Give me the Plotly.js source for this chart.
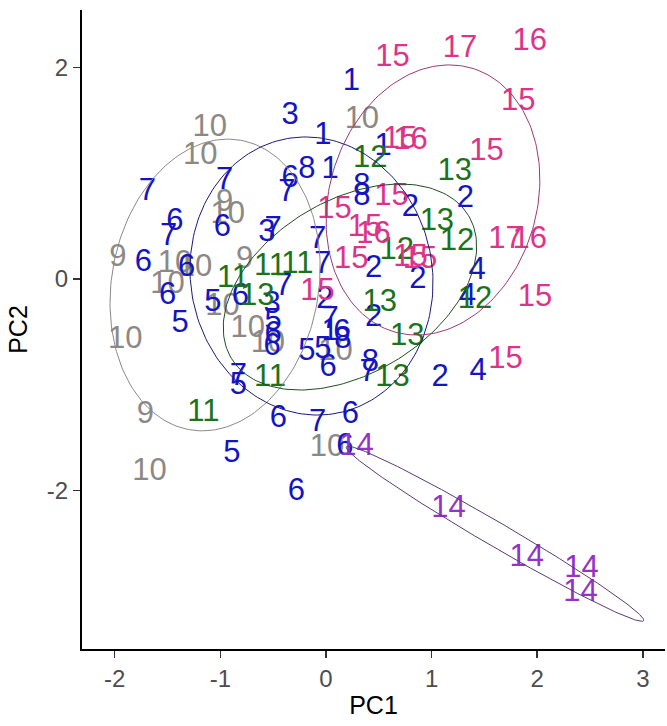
<!DOCTYPE html>
<html>
<head>
<meta charset="utf-8">
<script src="https://cdn.plot.ly/plotly-3.0.1.min.js"></script>
<style>html,body{margin:0;padding:0;background:#fff;}</style>
</head>
<body>
<div id="chart" style="width:667px;height:726px;"></div>
<script>
// ---- data ----
const greyLabels = ['10','10','10','9','10','9','10','10','10','9','10','9','10','10','10','10','10','10'];
const greyX = [-1.10,-1.19,0.34,-0.96,-0.93,-1.97,-1.43,-1.24,-1.50,-0.77,-1.90,-1.71,-1.67,-0.98,-0.74,-0.55,0.09,0.01];
const greyY = [1.43,1.16,1.50,0.72,0.60,0.20,0.14,0.10,-0.06,0.18,-0.58,-1.29,-1.83,-0.27,-0.48,-0.62,-0.69,-1.60];

const blueLabels = ['1','3','1','1','8','1','6','7','7','7','6','7','6','3','7','8','8','2','2','7','7','2','2','4','4','6','6','6','5','5','6','7','3','5','6','6','2','7','2','1','6','8','5','5','6','8','7','2','4','7','5','6','7','6','6','5','6'];
const blueX = [0.24,-0.34,-0.03,0.54,-0.18,0.04,-0.34,-0.37,-1.69,-0.96,-1.43,-1.49,-0.98,-0.56,-0.50,0.34,0.34,0.80,1.32,-0.08,-0.03,0.45,0.87,1.43,1.34,-1.73,-1.32,-1.50,-1.38,-1.07,-0.81,-0.40,-0.51,-0.50,-0.50,-0.51,-0.01,0.04,0.45,0.04,0.15,0.16,-0.18,-0.03,0.02,0.42,0.40,1.08,1.44,-0.83,-0.83,-0.45,-0.08,0.23,0.18,-0.89,-0.28];
const blueY = [1.86,1.54,1.35,1.25,1.03,1.03,0.94,0.81,0.82,0.92,0.54,0.39,0.48,0.43,0.46,0.87,0.77,0.67,0.75,0.37,0.13,0.09,-0.01,0.07,-0.17,0.15,0.10,-0.16,-0.43,-0.23,-0.17,-0.08,-0.25,-0.41,-0.53,-0.65,-0.20,-0.39,-0.37,-0.50,-0.51,-0.58,-0.69,-0.67,-0.84,-0.80,-0.89,-0.94,-0.88,-0.93,-1.01,-1.33,-1.36,-1.29,-1.59,-1.66,-2.02];

const greenLabels = ['12','13','13','12','12','11','11','11','13','13','13','13','11','11','12'];
const greenX = [0.42,1.22,1.05,1.24,0.67,-0.88,-0.53,-0.27,-0.65,0.51,0.77,0.63,-0.53,-1.16,1.41];
const greenY = [1.13,1.01,0.54,0.35,0.26,0.00,0.11,0.13,-0.17,-0.23,-0.55,-0.94,-0.94,-1.27,-0.20];

const pinkLabels = ['15','17','16','15','15','15','16','15','15','15','16','15','15','15','15','17','16','15','15'];
const pinkX = [0.63,1.27,1.93,1.82,1.52,0.70,0.80,0.08,0.62,0.37,0.45,0.24,-0.08,0.80,0.89,1.70,1.93,1.98,1.70];
const pinkY = [2.09,2.17,2.24,1.67,1.20,1.31,1.30,0.65,0.77,0.48,0.41,0.18,-0.13,0.20,0.18,0.37,0.37,-0.18,-0.77];

const purpleLabels = ['14','14','14','14','14'];
const purpleX = [0.29,1.16,1.90,2.42,2.41];
const purpleY = [-1.59,-2.18,-2.64,-2.75,-2.97];

// confidence ellipses (grey, blue, green, pink, purple): centre, semi-axes, rotation in degrees
const ellipseCx = [-1.05,-0.137,0.227,1.013,1.60];
const ellipseCy = [-0.057,0.028,-0.076,0.747,-2.41];
const ellipseA = [1.39,1.32,1.31,1.30,1.63];
const ellipseB = [0.98,1.145,0.82,0.983,0.115];
const ellipseAngle = [80,100,31,73.5,-30.3];

const xTicks = [-2,-1,0,1,2,3];
const xTickText = ['-2','-1','0','1','2','3'];
const yTicks = [-2,0,2];
const yTickText = ['-2','0','2'];

// ---- styling ----
const textColors = ['#8C8985','#1414C4','#1B731B','#DD3388','#9433C8'];
const lineColors = ['#8a8a8a','#1a1a78','#1f4f1f','#9a3a72','#5a3a78'];
const FONT = 'Liberation Sans, Arial, sans-serif';
const LABEL_SIZE = 31;

const groups = [
  [greyLabels, greyX, greyY],
  [blueLabels, blueX, blueY],
  [greenLabels, greenX, greenY],
  [pinkLabels, pinkX, pinkY],
  [purpleLabels, purpleX, purpleY]
];

const traces = [];
groups.forEach((g, i) => {
  traces.push({
    type: 'scatter', mode: 'text',
    x: g[1], y: g[2], text: g[0],
    textposition: 'middle center',
    textfont: {family: FONT, size: LABEL_SIZE, color: textColors[i]},
    hoverinfo: 'none', cliponaxis: false
  });
});

for (let i = 0; i < ellipseCx.length; i++) {
  const ex = [], ey = [];
  const th = ellipseAngle[i] * Math.PI / 180;
  for (let k = 0; k <= 200; k++) {
    const t = 2 * Math.PI * k / 200;
    const u = ellipseA[i] * Math.cos(t), v = ellipseB[i] * Math.sin(t);
    ex.push(ellipseCx[i] + u * Math.cos(th) - v * Math.sin(th));
    ey.push(ellipseCy[i] + u * Math.sin(th) + v * Math.cos(th));
  }
  traces.push({
    type: 'scatter', mode: 'lines', x: ex, y: ey,
    line: {color: lineColors[i], width: 1},
    hoverinfo: 'none'
  });
}

const axisCommon = {
  showgrid: false, zeroline: false,
  showline: true, linecolor: '#000', linewidth: 2,
  ticks: 'outside', ticklen: 7, tickwidth: 1.5, tickcolor: '#333',
  tickfont: {family: FONT, size: 24, color: '#4D4D4D'}
};

const layout = {
  width: 667, height: 726,
  margin: {l: 82, r: 2, t: 10, b: 77},
  paper_bgcolor: '#fff', plot_bgcolor: '#fff',
  showlegend: false,
  xaxis: Object.assign({}, axisCommon, {
    range: [-2.31, 3.21], tickmode: 'array', tickvals: xTicks, ticktext: xTickText,
    title: {text: 'PC1', font: {family: FONT, size: 25, color: '#000'}, standoff: 6}
  }),
  yaxis: Object.assign({}, axisCommon, {
    range: [-3.50, 2.544], tickmode: 'array', tickvals: yTicks, ticktext: yTickText,
    title: {text: 'PC2', font: {family: FONT, size: 25, color: '#000'}, standoff: 12}
  })
};

Plotly.newPlot('chart', traces, layout, {displayModeBar: false, staticPlot: true});
</script>
</body>
</html>
